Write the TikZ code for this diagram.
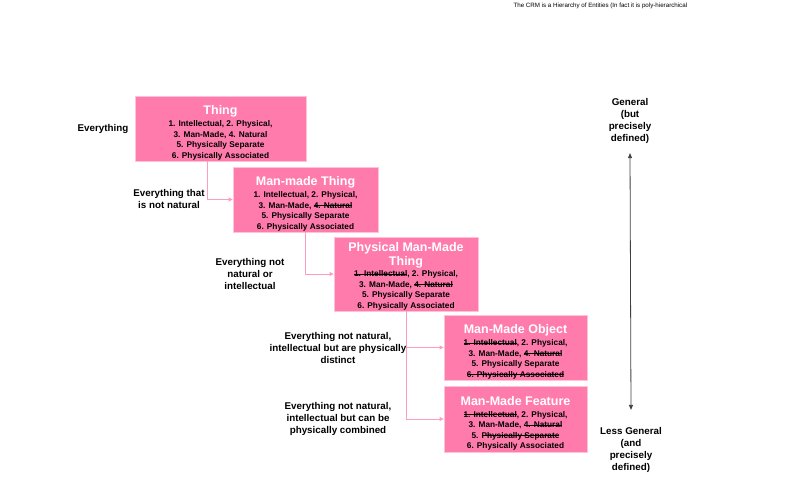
\documentclass[tikz,border=0pt]{standalone}
\usepackage{fontspec}
\setmainfont{Liberation Sans}
\usepackage{tikz}
\usetikzlibrary{arrows.meta, calc}

\definecolor{crmpink}{HTML}{FF7BAC}
\definecolor{crmedge}{HTML}{FFC2D8}
\definecolor{crmlink}{HTML}{FF9CC2}
\newcommand\strk[1]{\setbox0\hbox{#1}\rlap{\rule[0.3em]{\wd0}{0.45pt}}\box0}
\newcommand\tfont{\color{white}\fontsize{12.5}{15.5}\selectfont}

\begin{document}
\begin{tikzpicture}[x=1pt, y=-1pt,
    ent/.style={rectangle, fill=crmpink, draw=crmedge, line width=0.8pt, inner sep=0pt, align=center,
                font=\fontsize{8.3}{10.5}\selectfont\bfseries},
    lbl/.style={align=center, font=\fontsize{9.8}{12}\selectfont\bfseries},
    link/.style={draw=crmlink, line width=0.8pt, -{Triangle[length=4pt,width=4pt]}}]
                        \useasboundingbox (0,0) rectangle (800,500);
                        \node[anchor=west, font=\fontsize{6.2}{7}\selectfont] (head) at (510,6) {The CRM is a Hierarchy of Entities (In fact it is poly-hierarchical};
                        % entities
                        \node[ent, minimum width=171pt, minimum height=65pt] (thing) at (220.5,128.5) {\mbox{}\\[7pt]{\tfont Thing}\\[1.5pt]1. Intellectual, 2. Physical,\\3. Man-Made, 4. Natural\\5. Physically Separate\\6. Physically Associated};
                        \node[ent, minimum width=145pt, minimum height=65pt] (mmthing) at (305.5,199.5) {\mbox{}\\[7pt]{\tfont Man-made Thing}\\[1.5pt]1. Intellectual, 2. Physical,\\3. Man-Made, \strk{4. Natural}\\5. Physically Separate\\6. Physically Associated};
                        \node[ent, minimum width=144pt, minimum height=74pt] (pmmt) at (406,274) {\mbox{}\\[3pt]{\tfont Physical Man-Made}\\[1pt]{\tfont Thing}\\[1pt]\strk{1. Intellectual}, 2. Physical,\\3. Man-Made, \strk{4. Natural}\\5. Physically Separate\\6. Physically Associated};
                        \node[ent, minimum width=143pt, minimum height=65pt] (mmobj) at (515.5,347.5) {\mbox{}\\[7pt]{\tfont Man-Made Object}\\[1.5pt]\strk{1. Intellectual}, 2. Physical,\\3. Man-Made, \strk{4. Natural}\\5. Physically Separate\\\strk{6. Physically Associated}};
                        \node[ent, minimum width=143pt, minimum height=66pt] (mmfeat) at (515.5,419) {\mbox{}\\[7pt]{\tfont Man-Made Feature}\\[1.5pt]\strk{1. Intellectual}, 2. Physical,\\3. Man-Made, \strk{4. Natural}\\5. \strk{Physically Separate}\\6. Physically Associated};
                        % links
                        \draw[link] ([xshift=-13.5pt]thing.south) |- (mmthing.west);
                        \draw[link] (mmthing.south) |- (pmmt.west);
                        \draw[link] (pmmt.south) |- (mmobj.west);
                        \draw[link] (pmmt.south) |- (mmfeat.west);
                        % side labels
                        \node[lbl] (l0) at (103,129) {Everything};
                        \node[lbl] (l1) at (169,199) {Everything that\\is not natural};
                        \node[lbl] (l2) at (250,274) {Everything not\\natural or\\intellectual};
                        \node[lbl] (l3) at (338,348) {Everything not natural,\\intellectual but are physically\\distinct};
                        \node[lbl] (l4) at (338,419) {Everything not natural,\\intellectual but can be\\physically combined};
                        % scale of generality
                        \node[lbl] (gen) at (630,121) {General\\(but\\precisely\\defined)};
                        \node[lbl] (less) at (631,450) {Less General\\(and\\precisely\\defined)};
                        \draw[draw=black!75, line width=0.8pt, {Triangle[length=5pt,width=4pt]}-{Triangle[length=5pt,width=4pt]}] ([yshift=-6pt]gen.south) -- ([yshift=14pt]less.north);
                    \end{tikzpicture}
\end{document}
